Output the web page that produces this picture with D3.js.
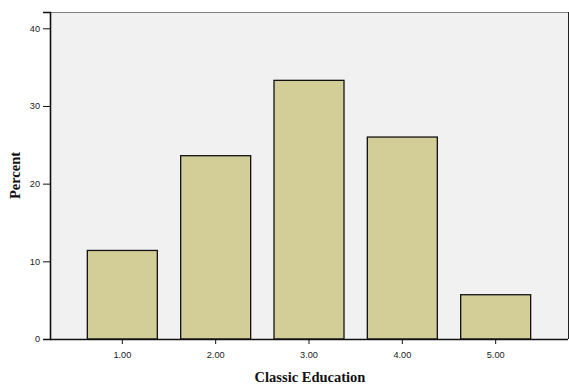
<!DOCTYPE html>
<html>
<head>
<meta charset="utf-8">
<script src="https://cdn.jsdelivr.net/npm/d3@7"></script>
<style>
  html, body { margin: 0; padding: 0; background: #ffffff; }
  svg { display: block; }
</style>
</head>
<body>
<svg id="chart" width="569" height="384"></svg>
<script>
const categories = ["1.00", "2.00", "3.00", "4.00", "5.00"];
const percents = [11.4, 23.6, 33.3, 26.0, 5.7];
const yTicks = [0, 10, 20, 30, 40];
const xTitle = "Classic Education";
const yTitle = "Percent";

(function () {
const svg = d3.select("#chart");
const pL = 50, pR = 568, pT = 12, pB = 339;

const x = d3.scaleBand().domain(categories).range([pL, pR]).paddingInner(0.25).paddingOuter(0.4);
const y = d3.scaleLinear().domain([0, 42.1]).range([pB, pT]);

// plot background
svg.append("rect").attr("x", pL).attr("y", pT).attr("width", pR - pL).attr("height", pB - pT)
  .attr("fill", "#f0f1f0");
// top & right frame
svg.append("line").attr("x1", pL).attr("x2", pR).attr("y1", pT + 0.5).attr("y2", pT + 0.5)
  .attr("stroke", "#808080").attr("stroke-width", 1);
svg.append("line").attr("x1", pR + 0.5).attr("x2", pR + 0.5).attr("y1", pT).attr("y2", pB)
  .attr("stroke", "#222").attr("stroke-width", 1);

// bars
svg.selectAll("rect.bar").data(categories).enter().append("rect")
  .attr("class", "bar")
  .attr("x", d => x(d))
  .attr("y", (d, i) => y(percents[i]))
  .attr("width", x.bandwidth())
  .attr("height", (d, i) => y(0) - y(percents[i]))
  .attr("fill", "#d3ce97")
  .attr("stroke", "#111")
  .attr("stroke-width", 1.3);

// axes
const yAxis = d3.axisLeft(y).tickValues(yTicks).tickFormat(d3.format("d")).tickSize(7).tickPadding(3);
const gy = svg.append("g").attr("transform", `translate(${pL},0)`).call(yAxis);
gy.select(".domain").attr("stroke", "#111").attr("stroke-width", 1.6);
gy.selectAll(".tick line").attr("stroke", "#111").attr("stroke-width", 1);
gy.selectAll(".tick text").attr("font-family", "Liberation Sans, Arial, sans-serif").attr("font-size", 9.2).attr("fill", "#222");

const xAxis = d3.axisBottom(x).tickSize(5).tickPadding(7);
const gx = svg.append("g").attr("transform", `translate(0,${pB})`).call(xAxis);
gx.select(".domain").attr("stroke", "#111").attr("stroke-width", 1.6).attr("d", `M${pL},0.5H${pR}`);
gx.selectAll(".tick line").attr("stroke", "#111").attr("stroke-width", 1);
gx.selectAll(".tick text").attr("font-family", "Liberation Sans, Arial, sans-serif").attr("font-size", 9.2).attr("fill", "#222");

// titles
svg.append("text").attr("x", 310).attr("y", 382)
  .attr("text-anchor", "middle")
  .attr("font-family", "Liberation Serif, Times New Roman, serif")
  .attr("font-weight", "bold").attr("font-size", 14.5).attr("fill", "#111")
  .text(xTitle);
svg.append("text").attr("transform", `translate(20,${(pT + pB) / 2}) rotate(-90)`)
  .attr("text-anchor", "middle")
  .attr("font-family", "Liberation Serif, Times New Roman, serif")
  .attr("font-weight", "bold").attr("font-size", 14.5).attr("fill", "#111")
  .text(yTitle);
})();
</script>
</body>
</html>
